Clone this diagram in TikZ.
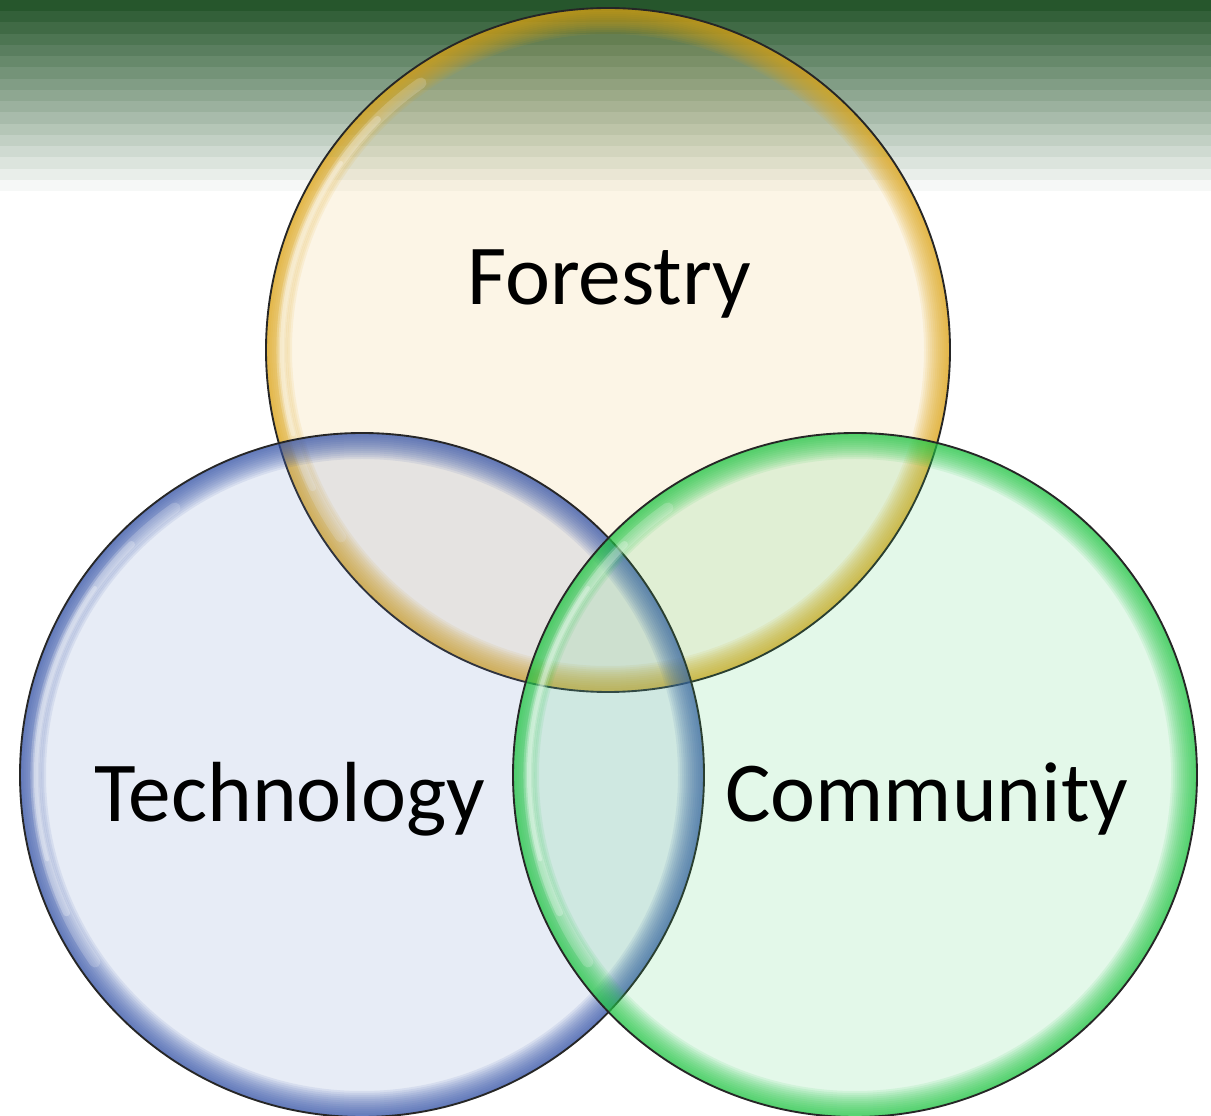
\documentclass[tikz,border=0pt]{standalone}
\usepackage{fontspec}
\setmainfont{Carlito}
\definecolor{bandgreen}{RGB}{38,86,44}
\definecolor{yfill}{RGB}{240,188,88}
\definecolor{yrim}{RGB}{222,165,20}
\definecolor{bfill}{RGB}{100,128,200}
\definecolor{brim}{RGB}{55,85,170}
\definecolor{gfill}{RGB}{70,210,110}
\definecolor{grim}{RGB}{35,200,70}
\newcommand\vennbubble[3]{%
  \fill[#2, fill opacity=0.15] (#1) circle[radius=342];
  \begin{scope}
    \clip (#1) circle[radius=342];
    \foreach \w in {4,8,...,52}
      \draw[#3, draw opacity=0.095, line width=\w*0.75pt] (#1) circle[radius=342];
    \draw[white, draw opacity=0.18, line width=11*0.75pt, line cap=round]
      ([shift={(125:326)}]#1) arc[start angle=125, end angle=215, radius=326];
    \draw[white, draw opacity=0.25, line width=7*0.75pt, line cap=round]
      ([shift={(135:326)}]#1) arc[start angle=135, end angle=205, radius=326];
    \draw[white, draw opacity=0.3, line width=4*0.75pt, line cap=round]
      ([shift={(145:326)}]#1) arc[start angle=145, end angle=195, radius=326];
  \end{scope}
  \draw[black!85, line width=1.4pt] (#1) circle[radius=342];
}
\begin{document}
\begin{tikzpicture}[x=0.75pt,y=0.75pt,
  label text/.style={font=\fontsize{64}{72}\selectfont, text=black, inner sep=0pt, anchor=base}]
\useasboundingbox (0,0) rectangle (1211,1115);
\clip (0,0) rectangle (1211,1115);
\fill[white] (0,0) rectangle (1211,1115);
% top stripes
\foreach \i in {0,...,16} {
  \pgfmathtruncatemacro\p{\i*6}
  \fill[white!\p!bandgreen] (0,{1115-\i*11.24}) rectangle (1211,{1115-(\i+1)*11.24-0.3});
}
\coordinate (cF) at (608,765);
\coordinate (cT) at (362,340);
\coordinate (cC) at (855,340);
\vennbubble{cF}{yfill}{yrim}
\vennbubble{cT}{bfill}{brim}
\vennbubble{cC}{gfill}{grim}
\node[label text] (forestry) at (609,810) {Forestry};
\node[label text] (technology) at (290,293) {Technology};
\node[label text] (community) at (927,293) {Community};
\end{tikzpicture}
\end{document}
